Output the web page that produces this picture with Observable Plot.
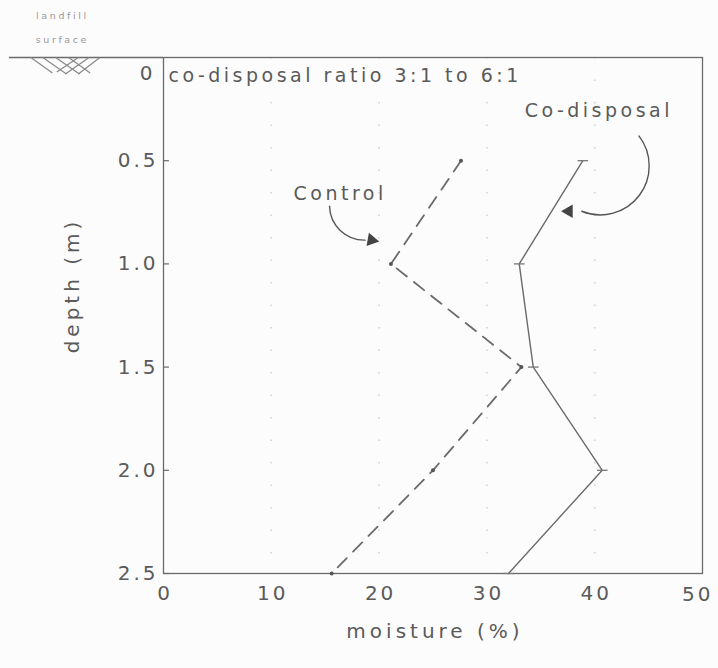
<!DOCTYPE html>
<html>
<head>
<meta charset="utf-8">
<script src="https://cdn.jsdelivr.net/npm/d3@7"></script>
<script src="https://cdn.jsdelivr.net/npm/@observablehq/plot@0.6"></script>
<style>
  html, body { margin: 0; padding: 0; background: #fcfcfc; }
  #chart svg { display: block; }
  .ticklab text { letter-spacing: 3px; }
  .title text { letter-spacing: 4px; }
  .note text { letter-spacing: 3.5px; }
  .tiny text { letter-spacing: 2.6px; }
</style>
</head>
<body>
<div id="chart"></div>
<script>
// Data
const depths = [0.5, 1.0, 1.5, 2.0, 2.5];
const controlMoisture = [27.6, 21.1, 33.2, 25.0, 15.6];
const codisposalMoisture = [38.9, 33.0, 34.3, 40.7, 32.0];
const xTicks = [0, 10, 20, 30, 40];   // "50" is drawn at the right edge separately
const xLastTick = 50;
const yTicks = [0.5, 1.0, 1.5, 2.0, 2.5];
const gridValues = [10, 20, 30, 40];

// Annotation texts
const ratioText = "co-disposal ratio 3:1 to 6:1";
const controlLabel = {text: "Control", x: 16.2, y: 0.66};
const codisLabel = {text: "Co-disposal", x: 40.2, y: 0.26};
const controlArrow = {x1: 15.4, y1: 0.72, x2: 18.7, y2: 0.885, hx: 19.3, hy: 0.885};
const codisArrow = {x1: 44.1, y1: 0.38, x2: 38.8, y2: 0.745, hx: 37.6, hy: 0.745};

// Landfill surface symbol (decorative hatch segments, in data units)
const surfaceLine = {x1: -14.3, x2: 0};
const hatch = [
  {x1: -12.3, y1: 0.0, x2: -10.3, y2: 0.075},
  {x1: -11.2, y1: 0.0, x2: -9.0, y2: 0.08},
  {x1: -10.0, y1: 0.0, x2: -7.8, y2: 0.08},
  {x1: -8.8, y1: 0.0, x2: -6.8, y2: 0.075},
  {x1: -5.9, y1: 0.0, x2: -7.9, y2: 0.08},
  {x1: -6.9, y1: 0.0, x2: -9.1, y2: 0.08},
  {x1: -7.9, y1: 0.0, x2: -9.9, y2: 0.07}
];
const landfillText = [
  {text: "landfill", x: -9.5, y: -0.2},
  {text: "surface", x: -9.5, y: -0.085}
];

const control = depths.map((d, i) => ({depth: d, moisture: controlMoisture[i]}));
const codis = depths.map((d, i) => ({depth: d, moisture: codisposalMoisture[i]}));

const ink = "#5a5a5a";
const font = "DejaVu Sans, sans-serif";

// horizontal dash symbol for co-disposal markers
const dash = {draw(ctx, size) { const w = Math.sqrt(size) / 2; ctx.moveTo(-w, 0); ctx.lineTo(w, 0); }};

const chart = Plot.plot({
  width: 718,
  height: 668,
  marginTop: 57,
  marginLeft: 163,
  marginRight: 16,
  marginBottom: 95,
  style: {fontFamily: font, background: "#fcfcfc", color: ink, overflow: "visible"},
  x: {type: "linear", domain: [0, 50]},
  y: {type: "linear", domain: [0, 2.5], reverse: true},
  marks: [
    // faint dotted grid
    Plot.ruleX(gridValues, {stroke: "#bbb", strokeWidth: 1.6, strokeDasharray: "1.5,21", strokeOpacity: 0.6}),
    // frame
    Plot.frame({stroke: "#6a6a6a", strokeWidth: 1.3}),
    // landfill surface line extension
    Plot.ruleY([0], {x1: surfaceLine.x1, x2: surfaceLine.x2, stroke: "#6a6a6a", strokeWidth: 1.3}),
    Plot.link(hatch, {x1: "x1", y1: "y1", x2: "x2", y2: "y2", stroke: "#888", strokeWidth: 1.2}),
    Plot.text(landfillText, {x: "x", y: "y", text: "text", fontSize: 9.5, fill: "#999", dx: 1.3, className: "tiny"}),
    // y ticks (inward)
    Plot.ruleY(yTicks, {x1: 0, x2: 0.55, stroke: "#6a6a6a", strokeWidth: 1.2}),
    // axes
    Plot.axisY(yTicks, {tickSize: 0, tickPadding: 5, tickFormat: d3.format(".1f"), fontSize: 20, label: null, className: "ticklab"}),
    Plot.text([0], {x: 0, y: 0, text: d => String(d), dx: -8, dy: 16, textAnchor: "end", fontSize: 20, fill: ink, className: "ticklab"}),
    Plot.axisX(xTicks, {tickSize: 0, tickPadding: 12, fontSize: 20, label: null, dx: 1.5, className: "ticklab"}),
    Plot.text([xLastTick], {x: d => d, y: 2.5, text: d => String(d), textAnchor: "end", dx: 11, dy: 21, fontSize: 20, fill: ink, className: "ticklab"}),
    Plot.text(["moisture (%)"], {frameAnchor: "bottom", dy: 64, dx: 2, fontSize: 20, fill: ink, className: "title"}),
    Plot.text(["depth (m)"], {frameAnchor: "left", dx: -91, dy: -30, rotate: -90, textAnchor: "middle", fontSize: 20, fill: ink, className: "title"}),
    // ratio note
    Plot.text([ratioText], {x: 0, y: 0, dx: 5, dy: 18, textAnchor: "start", fontSize: 19, fill: ink, className: "note"}),
    // data lines
    Plot.line(control, {x: "moisture", y: "depth", stroke: "#6a6a6a", strokeWidth: 1.8, strokeDasharray: "13,9"}),
    Plot.dot(control, {x: "moisture", y: "depth", r: 2, fill: "#555"}),
    Plot.line(codis, {x: "moisture", y: "depth", stroke: "#6a6a6a", strokeWidth: 1.4}),
    Plot.dot(codis, {x: "moisture", y: "depth", symbol: dash, r: 6, stroke: "#777", strokeWidth: 1.3}),
    // annotations
    Plot.text([controlLabel], {x: "x", y: "y", text: "text", fontSize: 19, fill: ink, dx: 2, className: "note"}),
    Plot.text([codisLabel], {x: "x", y: "y", text: "text", fontSize: 19, fill: ink, dx: 2, className: "note"}),
    Plot.arrow([controlArrow], {x1: "x1", y1: "y1", x2: "x2", y2: "y2", bend: -45, headLength: 0, stroke: "#555", strokeWidth: 1.4}),
    Plot.dot([controlArrow], {x: "hx", y: "hy", symbol: "triangle", rotate: 100, r: 5, fill: "#444"}),
    Plot.arrow([codisArrow], {x1: "x1", y1: "y1", x2: "x2", y2: "y2", bend: 75, headLength: 0, stroke: "#555", strokeWidth: 1.4}),
    Plot.dot([codisArrow], {x: "hx", y: "hy", symbol: "triangle", rotate: -90, r: 5, fill: "#444"})
  ]
});
document.getElementById("chart").appendChild(chart);
</script>
</body>
</html>
